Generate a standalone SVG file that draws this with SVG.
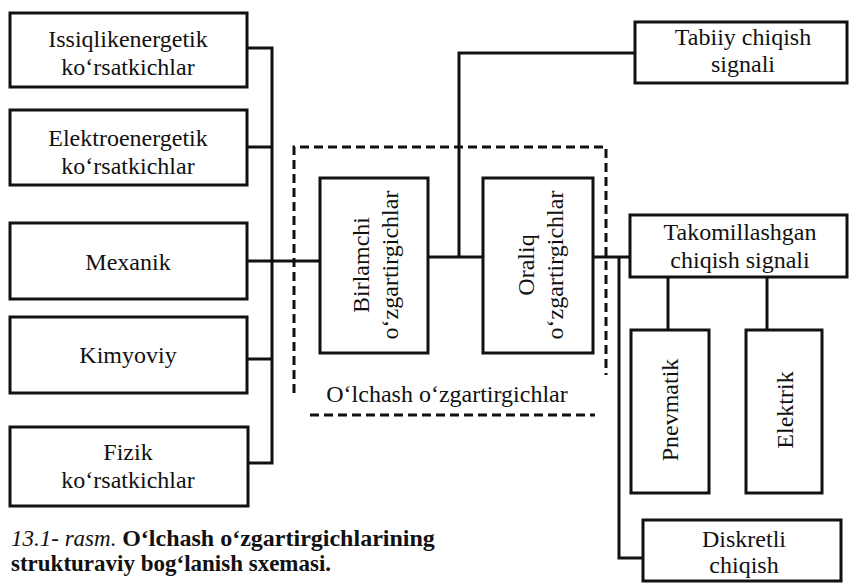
<svg xmlns="http://www.w3.org/2000/svg" width="849" height="583" viewBox="0 0 849 583" font-family="'Liberation Serif', 'Times New Roman', Times, serif">
  <style>
    .box { fill: #fff; stroke: #111; stroke-width: 3; }
    .wire { fill: none; stroke: #111; stroke-width: 3; }
    .dash { fill: none; stroke: #111; stroke-width: 3; stroke-dasharray: 9 5; }
    .lbl { font-family: 'Liberation Serif', 'Times New Roman', Times, serif; font-size: 24px; text-anchor: middle; fill: #111; }
    .cap { font-family: 'Liberation Serif', 'Times New Roman', Times, serif; font-size: 23px; fill: #111; }
  </style>

  <rect width="849" height="583" fill="#fff"/>

  <!-- dashed outline of the converter group (open at the bottom corners) -->
  <g id="converter-group">
    <path class="dash" d="M294,393 V147 H606 V375"/>
    <path class="dash" d="M310,415 H595"/>
    <text class="lbl" x="447" y="402">O‘lchash o‘zgartirgichlar</text>
  </g>

  <!-- connectors -->
  <g id="connectors">
    <!-- input bus -->
    <path class="wire" d="M247,48 H272 V463 H248"/>
    <path class="wire" d="M247,147 H272"/>
    <path class="wire" d="M247,359 H272"/>
    <path class="wire" d="M247,261 H320"/>
    <!-- between converters and up to natural output -->
    <path class="wire" d="M428,257 H483"/>
    <path class="wire" d="M459,257 V53 H635"/>
    <!-- intermediate converter outputs -->
    <path class="wire" d="M593,257 H630"/>
    <path class="wire" d="M619,257 V558 H643"/>
    <path class="wire" d="M668,277 V330"/>
    <path class="wire" d="M767,277 V330"/>
  </g>

  <!-- input quantities -->
  <g id="issiqlik">
    <rect class="box" x="10" y="13" width="237" height="74"/>
    <text class="lbl" x="128" y="47">Issiqlikenergetik</text>
    <text class="lbl" x="128" y="75">ko‘rsatkichlar</text>
  </g>
  <g id="elektroenergetik">
    <rect class="box" x="10" y="110" width="237" height="75"/>
    <text class="lbl" x="128" y="146">Elektroenergetik</text>
    <text class="lbl" x="128" y="174">ko‘rsatkichlar</text>
  </g>
  <g id="mexanik">
    <rect class="box" x="10" y="223" width="237" height="76"/>
    <text class="lbl" x="128" y="270">Mexanik</text>
  </g>
  <g id="kimyoviy">
    <rect class="box" x="10" y="317" width="237" height="76"/>
    <text class="lbl" x="128" y="363">Kimyoviy</text>
  </g>
  <g id="fizik">
    <rect class="box" x="10" y="427" width="238" height="79"/>
    <text class="lbl" x="128" y="460">Fizik</text>
    <text class="lbl" x="128" y="488">ko‘rsatkichlar</text>
  </g>

  <!-- converters -->
  <g id="birlamchi">
    <rect class="box" x="320" y="178" width="108" height="175"/>
    <g transform="translate(374,265) rotate(-90)">
      <text class="lbl" x="0" y="-5">Birlamchi</text>
      <text class="lbl" x="0" y="24">o‘zgartirgichlar</text>
    </g>
  </g>
  <g id="oraliq">
    <rect class="box" x="483" y="178" width="110" height="175"/>
    <g transform="translate(538,265) rotate(-90)">
      <text class="lbl" x="0" y="-4">Oraliq</text>
      <text class="lbl" x="0" y="25">o‘zgartirgichlar</text>
    </g>
  </g>

  <!-- outputs -->
  <g id="tabiiy">
    <rect class="box" x="635" y="22" width="212" height="61"/>
    <text class="lbl" x="743" y="45">Tabiiy chiqish</text>
    <text class="lbl" x="743" y="72">signali</text>
  </g>
  <g id="takomillashgan">
    <rect class="box" x="630" y="215" width="217" height="62"/>
    <text class="lbl" x="740" y="240">Takomillashgan</text>
    <text class="lbl" x="740" y="268">chiqish signali</text>
  </g>
  <g id="pnevmatik">
    <rect class="box" x="631" y="330" width="78" height="163"/>
    <text class="lbl" transform="translate(678,410) rotate(-90)">Pnevmatik</text>
  </g>
  <g id="elektrik">
    <rect class="box" x="746" y="330" width="76" height="163"/>
    <text class="lbl" transform="translate(793,410) rotate(-90)">Elektrik</text>
  </g>
  <g id="diskretli">
    <rect class="box" x="643" y="520" width="198" height="61"/>
    <text class="lbl" x="744" y="547">Diskretli</text>
    <text class="lbl" x="744" y="573">chiqish</text>
  </g>

  <!-- figure caption -->
  <g id="caption">
    <text class="cap" x="11" y="546"><tspan font-style="italic">13.1- rasm.</tspan> <tspan font-weight="bold" font-size="24px">O‘lchash o‘zgartirgichlarining</tspan></text>
    <text class="cap" x="11" y="571" font-weight="bold">strukturaviy bog‘lanish sxemasi.</text>
  </g>
</svg>
